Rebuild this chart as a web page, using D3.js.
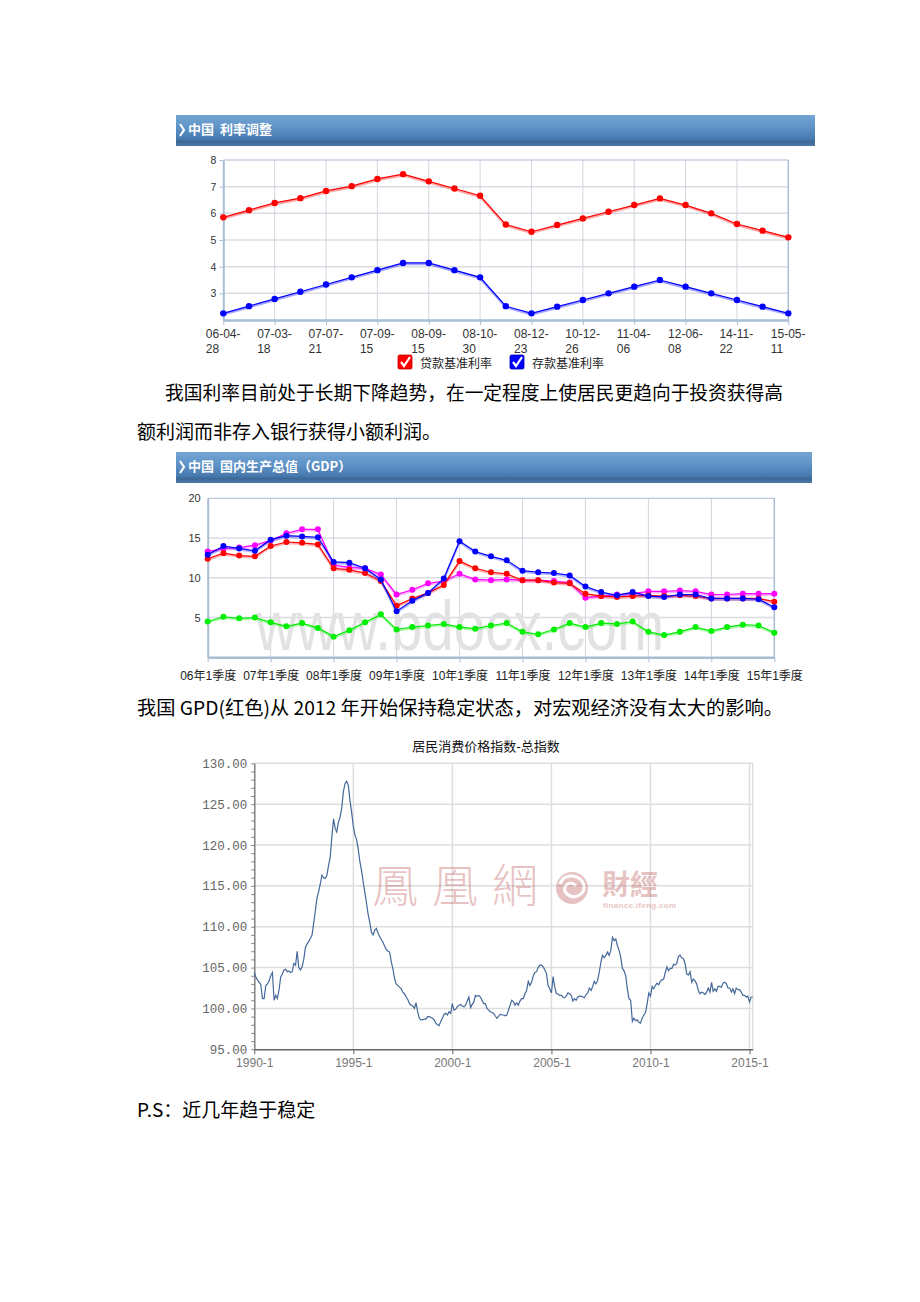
<!DOCTYPE html>
<html><head><meta charset="utf-8">
<script src="https://cdn.jsdelivr.net/npm/d3@7"></script>
<style>body{margin:0;background:#fff}svg{display:block}</style>
</head><body><svg id="page" width="920" height="1302"></svg>
<script>
// ---------------- DATA ----------------
const rateDates = ["06-04-28","06-08-19","07-03-18","07-05-19","07-07-21","07-08-22","07-09-15","07-12-21","08-09-15","08-10-09","08-10-30","08-11-27","08-12-23","10-10-20","10-12-26","11-02-09","11-04-06","11-07-07","12-06-08","12-07-06","14-11-22","15-03-01","15-05-11"];
const loanRate = [5.85,6.12,6.39,6.57,6.84,7.02,7.29,7.47,7.20,6.93,6.66,5.58,5.31,5.56,5.81,6.06,6.31,6.56,6.31,6.00,5.60,5.35,5.10];
const depositRate = [2.25,2.52,2.79,3.06,3.33,3.60,3.87,4.14,4.14,3.87,3.60,2.52,2.25,2.50,2.75,3.00,3.25,3.50,3.25,3.00,2.75,2.50,2.25];
const rateTicks = [3,4,5,6,7,8];
const rateLegend = ["贷款基准利率","存款基准利率"];

const gdpQuarters = ["06Q1","06Q2","06Q3","06Q4","07Q1","07Q2","07Q3","07Q4","08Q1","08Q2","08Q3","08Q4","09Q1","09Q2","09Q3","09Q4","10Q1","10Q2","10Q3","10Q4","11Q1","11Q2","11Q3","11Q4","12Q1","12Q2","12Q3","12Q4","13Q1","13Q2","13Q3","13Q4","14Q1","14Q2","14Q3","14Q4","15Q1"];
const gdpTickQuarters = ["06Q1","07Q1","08Q1","09Q1","10Q1","11Q1","12Q1","13Q1","14Q1","15Q1"];
const gdpTickLabels = ["06年1季度","07年1季度","08年1季度","09年1季度","10年1季度","11年1季度","12年1季度","13年1季度","14年1季度","15年1季度"];
const gdpRed = [12.4,13.1,12.8,12.7,14.0,14.5,14.4,14.2,11.2,11.0,10.6,9.6,6.5,7.4,8.1,9.1,12.1,11.2,10.7,10.5,9.7,9.7,9.4,9.3,8.0,7.7,7.6,7.7,7.8,7.7,7.8,7.7,7.4,7.4,7.4,7.4,7.0];
const gdpBlue = [12.9,14.0,13.7,13.4,14.8,15.3,15.2,15.1,12.0,11.9,11.2,9.8,5.8,7.1,8.1,9.9,14.6,13.3,12.7,12.2,10.9,10.7,10.6,10.3,8.9,8.2,7.8,8.2,7.7,7.6,7.9,7.9,7.4,7.4,7.4,7.3,6.3];
const gdpMagenta = [13.3,13.7,13.8,14.1,14.7,15.6,16.1,16.1,11.6,11.3,11.2,10.4,7.9,8.5,9.3,9.6,10.5,9.8,9.7,9.8,9.7,9.7,9.6,9.4,7.5,7.7,7.9,8.0,8.3,8.3,8.4,8.3,7.9,7.9,8.0,8.0,8.0];
const gdpGreen = [4.5,5.1,4.9,5.0,4.4,3.9,4.3,3.7,2.6,3.4,4.4,5.4,3.5,3.8,4.0,4.2,3.8,3.6,4.0,4.3,3.2,2.9,3.5,4.3,3.8,4.3,4.2,4.5,3.2,2.8,3.2,3.8,3.3,3.8,4.1,4.0,3.1];
const gdpTicks = [5,10,15,20];

const cpiStart = "1990-01";
const cpiEnd = "2015-03";
const cpiIndex = [
104.4,103.8,103.5,103.2,102.9,101.2,101.2,102.8,103.0,103.4,104.0,104.4,
101.0,101.6,101.2,102.2,103.8,104.2,104.7,104.8,104.5,104.6,104.4,104.5,
105.5,105.3,107.0,105.0,104.7,105.1,106.0,107.5,107.9,108.2,108.6,109.0,
110.5,112.0,113.5,114.3,115.2,116.3,116.0,115.9,116.3,117.5,118.5,121.0,
123.2,122.0,121.6,122.8,123.4,124.5,126.5,127.5,127.8,127.3,125.4,124.0,
122.3,121.2,120.7,119.5,118.0,116.9,115.5,114.2,112.9,111.5,110.5,109.3,
109.0,109.6,109.8,109.2,108.8,108.4,108.1,107.6,107.2,107.0,106.9,105.7,
104.8,103.6,103.0,102.8,102.6,102.4,102.0,101.8,101.4,101.1,100.6,100.4,
100.3,100.0,100.7,99.6,98.8,98.6,98.6,98.7,98.7,99.0,99.0,98.9,
98.8,98.6,98.2,98.0,97.9,98.4,98.8,99.3,99.4,99.2,99.6,99.4,
100.6,99.8,99.9,100.2,100.4,100.5,100.3,100.2,100.4,100.9,101.4,100.1,
100.5,100.8,101.6,101.5,101.6,101.4,101.0,100.6,100.6,100.0,99.8,99.6,
99.5,99.4,99.1,98.8,99.0,99.3,99.2,99.2,99.1,99.2,99.8,100.4,
101.0,100.8,100.4,100.7,100.4,100.9,101.2,101.2,101.8,102.2,103.3,102.8,
103.2,104.0,104.4,104.5,105.0,105.3,105.3,105.1,104.7,104.3,102.8,102.4,
101.9,103.9,102.7,101.8,101.8,101.6,101.6,101.4,101.3,101.5,101.9,101.8,
101.6,100.9,101.2,101.0,101.4,101.5,101.5,101.4,101.3,101.7,101.9,102.5,
102.2,102.7,103.3,103.0,103.4,104.4,105.6,106.5,106.2,106.5,106.9,106.5,
107.1,108.7,108.3,108.5,107.7,107.1,106.3,104.9,104.6,104.0,102.4,101.2,
101.0,98.4,98.8,98.5,98.6,98.3,98.2,98.8,99.2,99.5,100.6,101.9,
101.5,102.7,102.4,102.8,103.1,102.9,103.3,103.5,103.6,104.4,105.1,104.6,
104.9,104.9,105.4,105.3,105.5,106.4,106.5,106.2,106.1,105.5,104.2,104.1,
104.5,103.2,103.6,103.4,103.0,102.2,101.8,102.0,101.9,101.7,102.0,102.5,
102.0,103.2,102.1,102.4,102.1,102.7,102.7,102.6,103.1,103.2,103.0,102.5,
102.5,102.0,102.4,101.8,102.5,102.3,102.3,102.0,101.6,101.6,101.4,101.5,
100.8,101.4,101.4];
const cpiTickDates = ["1990-01","1995-01","2000-01","2005-01","2010-01","2015-01"];
const cpiTickLabels = ["1990-1","1995-1","2000-1","2005-1","2010-1","2015-1"];
const cpiTicks = [95,100,105,110,115,120,125,130];
const cpiTitle = "居民消费价格指数-总指数";

const para1a = "我国利率目前处于长期下降趋势，在一定程度上使居民更趋向于投资获得高";
const para1b = "额利润而非存入银行获得小额利润。";
const para2 = "我国 GPD(红色)从 2012 年开始保持稳定状态，对宏观经济没有太大的影响。";
const para3 = "P.S：近几年趋于稳定";

// ---------------- DRAW ----------------
const svg = d3.select('#page');
const SANS = '"Liberation Sans", Arial, "Noto Sans CJK SC", sans-serif';
const CJK = '"Noto Sans CJK SC", sans-serif';
const defs = svg.append('defs');
const hg = defs.append('linearGradient').attr('id','hdr').attr('x1',0).attr('y1',0).attr('x2',0).attr('y2',1);
[[0,'#74a5d4'],[0.4,'#5e93c7'],[0.78,'#4779ad'],[0.86,'#3a6898'],[1,'#4f7aa8']].forEach(s=>hg.append('stop').attr('offset',s[0]).attr('stop-color',s[1]));

function header(x, y, w, h, title){
  const g = svg.append('g');
  g.append('rect').attr('x',x).attr('y',y).attr('width',w).attr('height',h).attr('fill','url(#hdr)');
  g.append('path').attr('d',`M${x+4},${y+9} L${x+8},${y+15} L${x+4},${y+21}`).attr('fill','none').attr('stroke','#fff').attr('stroke-width',2.2);
  g.append('text').attr('x',x+12).attr('y',y+19).attr('fill','#fff').attr('font-family',CJK).attr('font-weight','bold').attr('font-size',13).attr('xml:space','preserve').text(title);
}
header(176,115,639,31,'中国  利率调整');
header(176,452,636,31,'中国  国内生产总值（GDP）');

function para(x, y, txt, len){
  const t = svg.append('text').attr('x',x).attr('y',y).attr('font-family',CJK).attr('font-size',19).attr('fill','#000').text(txt);
  if(len) t.attr('textLength',len).attr('lengthAdjust','spacingAndGlyphs');
}
para(165,400,para1a,618);
para(137,439,para1b);
para(137,715,para2,646);
para(137,1117,para3);

// ---------- Chart 1: interest rates ----------
(function(){
  const L=223.3, R=788.3, T=160, B=320;
  const x = d3.scalePoint().domain(rateDates).range([L,R]);
  const y = d3.scaleLinear().domain([2,8]).range([B,T]);
  const g = svg.append('g');
  const labeled = rateDates.filter((d,i)=>i%2===0);
  g.selectAll('.hg').data(rateTicks.filter(v=>v<8)).join('line').attr('x1',L).attr('x2',R).attr('y1',d=>y(d)).attr('y2',d=>y(d)).attr('stroke','#dcdce4').attr('stroke-width',1.5);
  g.selectAll('.vg').data(labeled.slice(1,-1)).join('line').attr('x1',d=>x(d)).attr('x2',d=>x(d)).attr('y1',T).attr('y2',B).attr('stroke','#d4d4de').attr('stroke-width',1);
  g.append('line').attr('x1',L).attr('x2',R).attr('y1',T).attr('y2',T).attr('stroke','#a9bdd4');
  g.append('line').attr('x1',R).attr('x2',R).attr('y1',T).attr('y2',B).attr('stroke','#a9bdd4').attr('stroke-width',1.5);
  const ya = g.append('g').attr('transform',`translate(${L},0)`).call(d3.axisLeft(y).tickValues(rateTicks).tickSize(4).tickSizeOuter(0).tickFormat(d3.format('d')));
  ya.select('.domain').attr('stroke','#a9bdd4').attr('stroke-width',2);
  ya.selectAll('.tick line').attr('stroke','#a9bdd4');
  ya.selectAll('text').attr('font-family',SANS).attr('font-size',10.5).attr('fill','#333').attr('x',-7);
  const xa = g.append('g').attr('transform',`translate(0,${B})`).call(d3.axisBottom(x).tickValues(labeled).tickSize(5).tickSizeOuter(0));
  xa.select('.domain').attr('stroke','#a9bdd4').attr('stroke-width',2.5);
  xa.selectAll('.tick line').attr('stroke','#a9bdd4');
  xa.selectAll('text').remove();
  labeled.forEach(d=>{
    const t = g.append('text').attr('font-family',SANS).attr('font-size',12).attr('fill','#333');
    t.append('tspan').attr('x',x(d)-17.5).attr('y',338).text(d.slice(0,6));
    t.append('tspan').attr('x',x(d)-17.5).attr('y',353).text(d.slice(6));
  });
  const line = d3.line().x((d,i)=>x(rateDates[i])).y(d=>y(d));
  [[loanRate,'#ff0000'],[depositRate,'#0000ff']].forEach(([vals,c])=>{
    g.append('path').datum(vals).attr('d',line).attr('fill','none').attr('stroke',c).attr('stroke-opacity',0.35).attr('stroke-width',2.2).attr('transform','translate(0,1.2)');
    g.append('path').datum(vals).attr('d',line).attr('fill','none').attr('stroke',c).attr('stroke-width',1.2);
    g.selectAll(null).data(vals).join('circle').attr('cx',(d,i)=>x(rateDates[i])).attr('cy',d=>y(d)).attr('r',3.2).attr('fill',c);
  });
  // legend
  [[398,'#ff0000','#c00000',rateLegend[0]],[510,'#0000ff','#0000b0',rateLegend[1]]].forEach(([lx,c,dc,label])=>{
    g.append('rect').attr('x',lx).attr('y',355).attr('width',14).attr('height',14).attr('rx',1.5).attr('fill',c).attr('stroke',dc).attr('stroke-width',0.8);
    g.append('path').attr('d',`M${lx+3},${355+7} L${lx+6},${355+11} L${lx+12},${355+2}`).attr('fill','none').attr('stroke','#fff').attr('stroke-width',2.2);
    g.append('text').attr('x',lx+22).attr('y',368).attr('font-family',CJK).attr('font-size',12).attr('fill','#222').text(label);
  });
})();

// ---------- Chart 2: GDP ----------
(function(){
  const L=207.7, R=774.3, T=498.3, B=657.3;
  const x = d3.scalePoint().domain(gdpQuarters).range([L,R]);
  const y = d3.scaleLinear().domain([0,20]).range([B,T]);
  const g = svg.append('g');
  g.selectAll('.hg').data(gdpTicks.filter(v=>v<20)).join('line').attr('x1',L).attr('x2',R).attr('y1',d=>y(d)).attr('y2',d=>y(d)).attr('stroke','#dcdce4').attr('stroke-width',1.5);
  g.selectAll('.vg').data(gdpTickQuarters.slice(1,-1)).join('line').attr('x1',d=>x(d)).attr('x2',d=>x(d)).attr('y1',T).attr('y2',B).attr('stroke','#d4d4de');
  g.append('line').attr('x1',L).attr('x2',R).attr('y1',T).attr('y2',T).attr('stroke','#a9bdd4');
  g.append('line').attr('x1',R).attr('x2',R).attr('y1',T).attr('y2',B).attr('stroke','#a9bdd4').attr('stroke-width',1.5);
  // watermark
  g.append('text').attr('x',256).attr('y',650).attr('font-family',SANS).attr('font-size',70).attr('fill','#e2e2e2').attr('textLength',408).attr('lengthAdjust','spacingAndGlyphs').text('www.bdocx.com');
  const ya = g.append('g').attr('transform',`translate(${L},0)`).call(d3.axisLeft(y).tickValues(gdpTicks).tickSize(0).tickSizeOuter(0));
  ya.select('.domain').attr('stroke','#a9bdd4').attr('stroke-width',2);
  ya.selectAll('text').attr('font-family',SANS).attr('font-size',11).attr('fill','#333').attr('x',-7);
  const xa = g.append('g').attr('transform',`translate(0,${B})`).call(d3.axisBottom(x).tickValues(gdpTickQuarters).tickSize(5).tickSizeOuter(0).tickFormat((d,i)=>gdpTickLabels[i]));
  xa.select('.domain').attr('stroke','#a9bdd4').attr('stroke-width',2.5);
  xa.selectAll('.tick line').attr('stroke','#a9bdd4');
  xa.selectAll('text').attr('font-family',SANS).attr('font-size',12).attr('fill','#222').attr('y',14);
  const line = d3.line().x((d,i)=>x(gdpQuarters[i])).y(d=>y(d));
  [[gdpGreen,'#00ee00'],[gdpMagenta,'#ff00ff'],[gdpRed,'#ff0000'],[gdpBlue,'#0000ff']].forEach(([vals,c])=>{
    g.append('path').datum(vals).attr('d',line).attr('fill','none').attr('stroke',c).attr('stroke-opacity',0.3).attr('stroke-width',2.2).attr('transform','translate(0,1.2)');
    g.append('path').datum(vals).attr('d',line).attr('fill','none').attr('stroke',c).attr('stroke-width',1.2);
    g.selectAll(null).data(vals).join('circle').attr('cx',(d,i)=>x(gdpQuarters[i])).attr('cy',d=>y(d)).attr('r',3).attr('fill',c);
  });
})();

// ---------- Chart 3: CPI ----------
(function(){
  const L=254.3, R=752.7, T=763.3, B=1049.3;
  const parse = d3.timeParse('%Y-%m');
  const start = parse(cpiStart);
  const x = d3.scaleTime().domain([start, parse(cpiEnd)]).range([L,R]);
  const y = d3.scaleLinear().domain([95,130]).range([B,T]);
  const g = svg.append('g');
  g.append('text').attr('x',486).attr('y',751).attr('text-anchor','middle').attr('font-family',CJK).attr('font-size',13).attr('fill','#111').text(cpiTitle);
  g.selectAll('.hg').data(cpiTicks.filter(v=>v>95)).join('line').attr('x1',L).attr('x2',R).attr('y1',d=>y(d)).attr('y2',d=>y(d)).attr('stroke','#dedede').attr('stroke-width',1.5);
  g.selectAll('.vg').data(cpiTickDates.slice(1)).join('line').attr('x1',d=>x(parse(d))).attr('x2',d=>x(parse(d))).attr('y1',T).attr('y2',B).attr('stroke','#dedede').attr('stroke-width',1.5);
  g.append('line').attr('x1',R).attr('x2',R).attr('y1',T).attr('y2',B).attr('stroke','#dedede').attr('stroke-width',1.5);
  // watermark (ifeng)
  const wm = g.append('g').attr('opacity',0.3);
  wm.append('text').attr('x',372).attr('y',902).attr('font-family','"Noto Sans CJK TC", "Noto Sans CJK SC", sans-serif').attr('font-size',46).attr('font-weight',300).attr('fill','#b33a3a').attr('letter-spacing',14).text('鳳凰網');
  wm.append('circle').attr('cx',572).attr('cy',888).attr('r',16).attr('fill','#b33a3a');
  wm.append('path').attr('d','M560,884 C564,872 582,874 584,886 C585,896 572,900 566,893 C561,887 570,879 576,886').attr('fill','none').attr('stroke','#fff').attr('stroke-width',3);
  wm.append('text').attr('x',602).attr('y',895).attr('font-family','"Noto Sans CJK TC", sans-serif').attr('font-size',28).attr('font-weight','bold').attr('fill','#b33a3a').text('財經');
  wm.append('text').attr('x',603).attr('y',908).attr('font-family',SANS).attr('font-size',8).attr('font-weight','bold').attr('fill','#b33a3a').attr('textLength',73).text('finance.ifeng.com');
  const ya = g.append('g').attr('transform',`translate(${L},0)`).call(d3.axisLeft(y).ticks(35).tickSize(3).tickSizeOuter(0).tickFormat(d=>d%5===0?d3.format('.2f')(d):''));
  ya.select('.domain').attr('stroke','#808080').attr('stroke-width',1.5);
  ya.selectAll('.tick line').attr('stroke','#808080');
  ya.selectAll('text').attr('font-family','"Liberation Mono", "DejaVu Sans Mono", monospace').attr('font-size',12.5).attr('fill','#666').attr('x',-7);
  const xa = g.append('g').attr('transform',`translate(0,${B})`).call(d3.axisBottom(x).tickValues(cpiTickDates.map(parse)).tickSize(5).tickSizeOuter(0).tickFormat((d,i)=>cpiTickLabels[i]));
  xa.select('.domain').attr('stroke','#666').attr('stroke-width',1.5);
  xa.selectAll('.tick line').attr('stroke','#666');
  xa.selectAll('text').attr('font-family',SANS).attr('font-size',12).attr('fill','#777').attr('y',9);
  const line = d3.line().x((d,i)=>x(d3.timeMonth.offset(start,i))).y(d=>y(d));
  g.append('path').datum(cpiIndex).attr('d',line).attr('fill','none').attr('stroke','#45689a').attr('stroke-width',1.2);
})();
</script></body></html>
